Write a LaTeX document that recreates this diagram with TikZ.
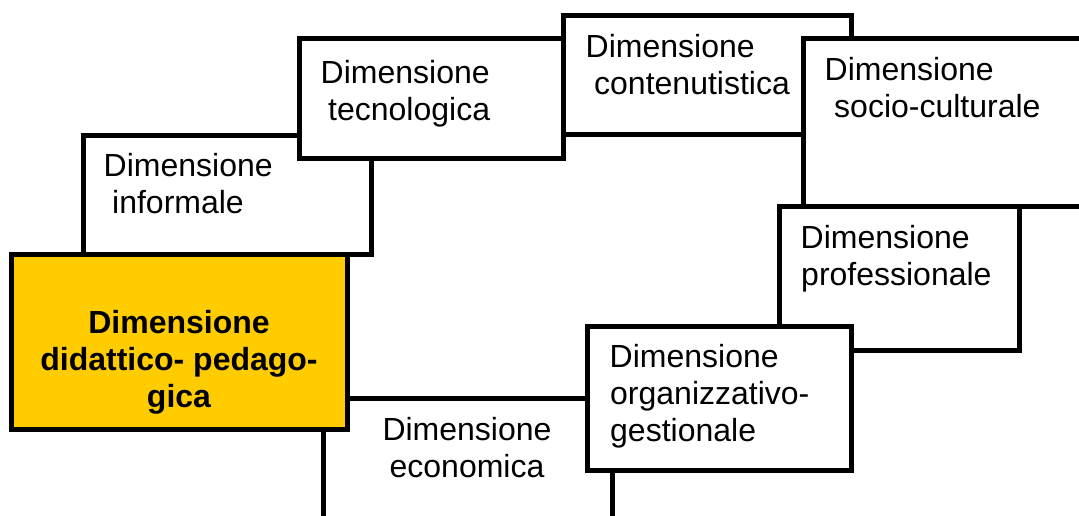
\documentclass[tikz,border=0pt]{standalone}
\usepackage{fontspec}
\setmainfont{Liberation Sans}
\definecolor{dimyellow}{HTML}{FFCC00}
\tikzset{
  dimbox/.style={draw=black, line width=5pt, fill=white, rectangle, inner sep=0pt, outer sep=0pt},
  mainbox/.style={dimbox, fill=dimyellow},
  ltxt/.style={anchor=base west, inner sep=0pt, font=\fontsize{32pt}{37pt}\selectfont},
  ctxt/.style={anchor=base, inner sep=0pt, font=\fontsize{32pt}{37pt}\selectfont},
  btxt/.style={anchor=base, inner sep=0pt, font=\fontsize{32pt}{37pt}\selectfont\bfseries}
}
\begin{document}
\begin{tikzpicture}[x=1pt,y=-1pt]
\clip (0,0) rectangle (1079,515);
\fill[white] (0,0) rectangle (1079,515);
% boxes, in stacking order
\node[dimbox, minimum width=289pt, minimum height=150pt] (econ) at (467.5,473) {};
\node[dimbox, minimum width=288pt, minimum height=119pt] (inform) at (227,194.5) {};
\node[dimbox, minimum width=264pt, minimum height=120pt] (tecno) at (431,98) {};
\node[dimbox, minimum width=288pt, minimum height=119pt] (conten) at (707,74.5) {};
\node[dimbox, minimum width=307pt, minimum height=168pt] (socio) at (956.5,122) {};
\node[dimbox, minimum width=240pt, minimum height=144pt] (prof) at (899,278) {};
\node[dimbox, minimum width=264pt, minimum height=144pt] (organ) at (719,398) {};
\node[mainbox, minimum width=336pt, minimum height=175pt] (didat) at (179,341.5) {};
% texts
\node[ltxt] (inform1) at (103.5,176) {Dimensione};
\node[ltxt] (inform2) at (112,213) {informale};
\node[ltxt] (tecno1) at (320.5,83) {Dimensione};
\node[ltxt] (tecno2) at (328,120) {tecnologica};
\node[ltxt] (conten1) at (585.5,57) {Dimensione};
\node[ltxt] (conten2) at (594,94) {contenutistica};
\node[ltxt] (socio1) at (824.5,80) {Dimensione};
\node[ltxt] (socio2) at (834,117) {socio-culturale};
\node[ltxt] (prof1) at (800.5,248) {Dimensione};
\node[ltxt] (prof2) at (801,285) {professionale};
\node[ltxt] (organ1) at (609.5,367) {Dimensione};
\node[ltxt] (organ2) at (610,404) {organizzativo-};
\node[ltxt] (organ3) at (610,441) {gestionale};
\node[ctxt] (econ1) at (467,440) {Dimensione};
\node[ctxt] (econ2) at (467,477) {economica};
\node[btxt] (didat1) at (179,333) {Dimensione};
\node[btxt] (didat2) at (179,370) {didattico- pedago-};
\node[btxt] (didat3) at (179,407) {gica};
\end{tikzpicture}
\end{document}
